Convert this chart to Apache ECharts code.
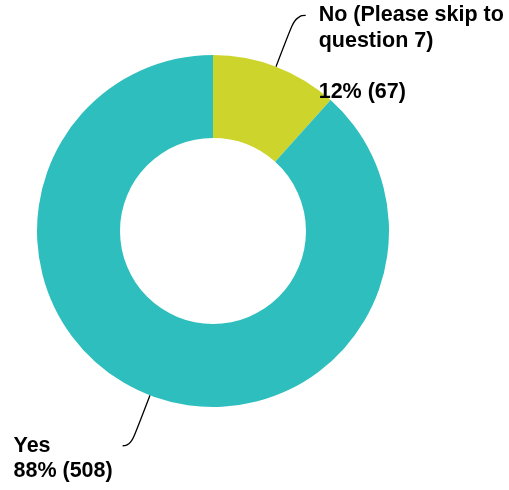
<!DOCTYPE html>
<html>
<head>
<meta charset="utf-8">
<style>
  html, body { margin: 0; padding: 0; background: #ffffff; }
  #chart { width: 509px; height: 490px; }
</style>
<script src="https://cdn.jsdelivr.net/npm/echarts@6/dist/echarts.min.js"></script>
</head>
<body>
<div id="chart"></div>
<script>
// Survey answers, in drawing order (clockwise from 12 o'clock)
const categories = ['No (Please skip to\nquestion 7)', 'Yes'];
const responses = [67, 508];
const sliceColors = ['#cdd42b', '#2fbebe'];

const FONT = '"Liberation Sans", Arial, Helvetica, sans-serif';
const FONT_SIZE = 21.5;

// Every label line is wrapped in the same rich style so lines stay left-aligned
function richLines(lines) {
  return lines.map(function (l) { return '{t|' + l + '}'; }).join('\n');
}

const pieData = categories.map(function (name, i) {
  const isFirst = i === 0;
  return {
    name: name,
    value: responses[i],
    itemStyle: { color: sliceColors[i] },
    label: isFirst
      ? { lineHeight: 25.5, padding: [76.5, 0, 0, 0], distanceToLabelLine: 13 }
      : { lineHeight: 25.5, padding: [25.5, 0, 0, 0], distanceToLabelLine: 10 },
    labelLine: isFirst
      ? { length: 55, length2: 10 }
      : { length: 54, length2: 8 }
  };
});

const chart = echarts.init(document.getElementById('chart'), null, { renderer: 'canvas' });
chart.setOption({
  animation: false,
  backgroundColor: '#ffffff',
  series: [{
    type: 'pie',
    center: [213, 231],
    radius: [93, 176],
    startAngle: 90,
    clockwise: true,
    avoidLabelOverlap: false,
    percentPrecision: 0,
    itemStyle: { borderWidth: 0 },
    emphasis: { disabled: true },
    label: {
      show: true,
      position: 'outside',
      color: '#000000',
      fontFamily: FONT,
      fontWeight: 'bold',
      fontSize: FONT_SIZE,
      formatter: function (p) {
        const nameLines = p.name.split('\n');
        const valueLine = p.percent + '% (' + p.value + ')';
        // The long answer gets a blank line before its figures
        const lines = nameLines.length > 1
          ? nameLines.concat(['', valueLine])
          : nameLines.concat([valueLine]);
        return richLines(lines);
      },
      rich: {
        t: {
          align: 'left',
          color: '#000000',
          fontFamily: FONT,
          fontWeight: 'bold',
          fontSize: FONT_SIZE
        }
      }
    },
    labelLine: {
      show: true,
      smooth: 0.6,
      lineStyle: { color: '#000000', width: 1.3 }
    },
    data: pieData
  }]
});
</script>
</body>
</html>
